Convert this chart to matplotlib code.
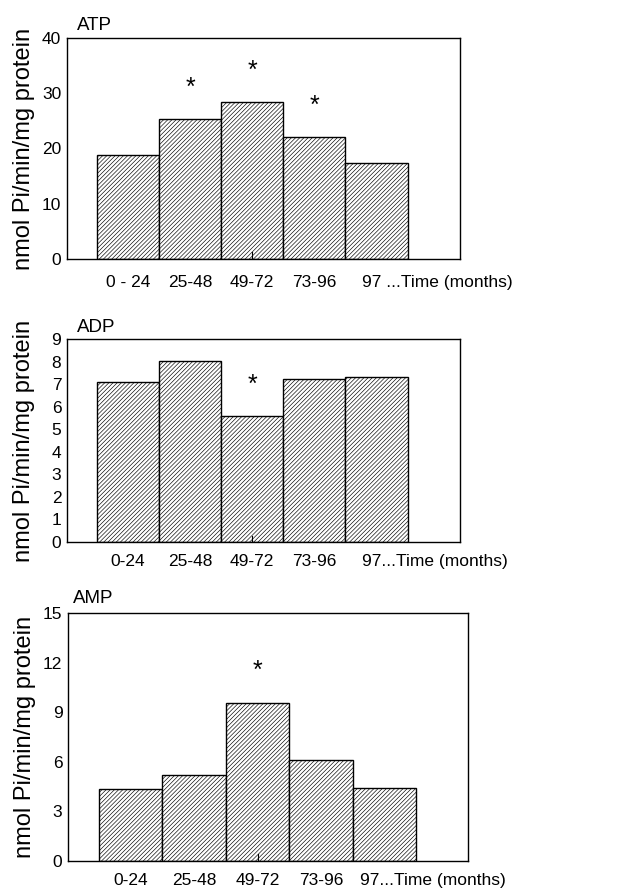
import numpy as np
import matplotlib
matplotlib.use("Agg")
import matplotlib.pyplot as plt

plt.rcParams['font.family'] = ['Liberation Sans', 'DejaVu Sans']
plt.rcParams['hatch.linewidth'] = 0.45

# data
groups = ['0-24', '25-48', '49-72', '73-96', '97']
atp = [18.8, 25.3, 28.4, 22.1, 17.4]
adp = [7.1, 8.02, 5.57, 7.21, 7.33]
amp = [4.34, 5.18, 9.58, 6.11, 4.43]
atp_sig = [False, True, True, True, False]
adp_sig = [False, False, True, False, False]
amp_sig = [False, False, True, False, False]

atp_labels = ['0 - 24', '25-48', '49-72', '73-96', '97 ...Time (months)']
adp_labels = ['0-24', '25-48', '49-72', '73-96', '97...Time (months)']
amp_labels = ['0-24', '25-48', '49-72', '73-96', '97...Time (months)']

fig = plt.figure(figsize=(6.37, 8.91), dpi=100)

panels = [
    # name, values, sig, labels, ylim, yticks, rect, xlim, last label x, pad, title y
    ('ATP', atp, atp_sig, atp_labels, 40, np.arange(0, 41, 10),
     [0.105, 0.7093, 0.617, 0.2481], (-0.98, 5.34), 3.76, 11.5, 1.036),
    ('ADP', adp, adp_sig, adp_labels, 9, np.arange(0, 10, 1),
     [0.105, 0.3917, 0.617, 0.2278], (-0.98, 5.34), 3.76, 8.6, 1.034),
    ('AMP', amp, amp_sig, amp_labels, 15, np.arange(0, 16, 3),
     [0.1068, 0.0337, 0.628, 0.2783], (-0.99, 5.32), 3.62, 9.0, 1.04),
]

for name, vals, sig, labels, ymax, yt, rect, xl, lastx, pad, ty in panels:
    ax = fig.add_axes(rect)
    x = np.arange(len(vals))
    ax.bar(x, vals, width=1.0, color='white', edgecolor='black',
           linewidth=1.0, hatch='////////')
    for xi, v, s in zip(x, vals, sig):
        if s:
            ax.annotate('*', (xi, v), xytext=(0, 14), textcoords='offset points',
                        ha='center', va='bottom', fontsize=18)
    ax.set_xlim(*xl)
    ax.set_ylim(0, ymax)
    ax.set_yticks(yt)
    ax.set_xticks(list(x[:-1]) + [lastx])
    ax.set_xticklabels(labels)
    ax.get_xticklabels()[-1].set_horizontalalignment('left')
    ax.tick_params(axis='x', length=0, pad=pad, labelsize=12.5)
    ax.tick_params(axis='y', length=0, pad=4, labelsize=12.5)
    # small inward mark at the middle group, as in the original
    ax.plot([2, 2], [0, ymax * 0.03], color='black', linewidth=0.8)
    for sp in ax.spines.values():
        sp.set_linewidth(1.0)
    ax.set_ylabel('nmol Pi/min/mg protein', fontsize=17)
    ax.yaxis.set_label_coords(-0.081, 0.5)
    ax.text(0.025 if name != 'AMP' else 0.0125, ty, name, transform=ax.transAxes,
            ha='left', va='baseline', fontsize=13.5)

fig.savefig('out.png', dpi=100)
